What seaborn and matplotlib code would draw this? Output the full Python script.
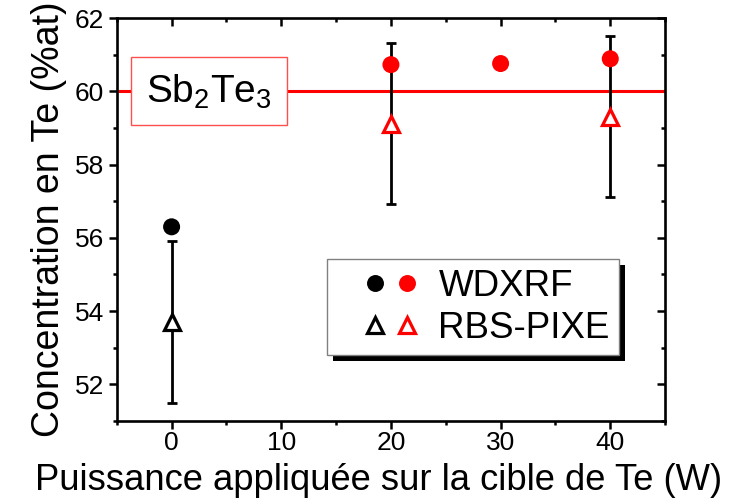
import numpy as np
import pandas as pd
import seaborn as sns
import matplotlib.pyplot as plt
from matplotlib.lines import Line2D
from matplotlib.legend_handler import HandlerTuple
from matplotlib.patches import Rectangle
from matplotlib.ticker import MultipleLocator

sns.set_style("ticks")
plt.rcParams['font.family'] = ['Liberation Sans', 'DejaVu Sans']
plt.rcParams['mathtext.fontset'] = 'custom'
plt.rcParams['mathtext.rm'] = 'Liberation Sans'
plt.rcParams['mathtext.it'] = 'Liberation Sans'
for k in ['text.color', 'axes.labelcolor', 'xtick.color', 'ytick.color', 'axes.edgecolor']:
    plt.rcParams[k] = 'black'

# data
power = [0, 20, 30, 40]
wdxrf = [56.3, 60.73, 60.76, 60.89]
wdxrf_color = ['black', 'red', 'red', 'red']
rbs_power = [0, 20, 40]
rbs = [53.7, 59.12, 59.31]
rbs_err = [2.2, 2.2, 2.2]
rbs_color = ['black', 'red', 'red']
stoich = 60.0

df_w = pd.DataFrame({'P': power, 'c': wdxrf, 'col': wdxrf_color})
df_r = pd.DataFrame({'P': rbs_power, 'c': rbs, 'col': rbs_color})

fig = plt.figure(figsize=(7.39, 5.04), dpi=100)
ax = fig.add_axes([0.158, 0.165, 0.742, 0.799])

ax.axhline(stoich, color='red', lw=2.2, zorder=1)
ax.errorbar(rbs_power, rbs, yerr=rbs_err, fmt='none', ecolor='black',
            elinewidth=2, capsize=3.3, capthick=2, zorder=2)
sns.scatterplot(data=df_w, x='P', y='c', hue='col', palette={'black': 'black', 'red': 'red'},
                marker='o', s=150, edgecolor='none', legend=False, ax=ax, zorder=3)
for col in ['black', 'red']:
    sub = df_r[df_r['col'] == col]
    ax.plot(sub['P'], sub['c'], ls='none', marker='^', ms=12, mfc='white',
            mec=col, mew=2.3, zorder=4)

ax.set_xlim(-5, 45)
ax.set_ylim(51, 62)
ax.xaxis.set_major_locator(MultipleLocator(10))
ax.xaxis.set_minor_locator(MultipleLocator(5))
ax.yaxis.set_major_locator(MultipleLocator(2))
ax.yaxis.set_minor_locator(MultipleLocator(1))
ax.tick_params(which='both', direction='out', width=1.8, labelsize=19)
ax.tick_params(which='major', length=5.5)
ax.tick_params(which='minor', length=2.8)
ax.tick_params(axis='x', pad=1.5)
ax.tick_params(axis='y', pad=3.5)
ax.tick_params(which='both', top=True, right=True, labeltop=False, labelright=False)
# top/right ticks point inward
for t in ax.xaxis.get_major_ticks() + ax.xaxis.get_minor_ticks():
    t.tick2line.set_marker(3)
for t in ax.yaxis.get_major_ticks() + ax.yaxis.get_minor_ticks():
    t.tick2line.set_marker(0)
for s in ax.spines.values():
    s.set_linewidth(1.9)

ax.set_xlabel('Puissance appliquée sur la cible de Te (W)', fontsize=26.2, labelpad=6)
ax.xaxis.label.set_x(0.477)
ax.set_ylabel('Concentration en Te (%at)', fontsize=27, labelpad=6)

ax.text(3.4, 60.0, r'Sb$_2$Te$_3$', fontsize=28, ha='center', va='center', zorder=5,
        bbox=dict(boxstyle='square,pad=0.38', fc='white', ec='#ff5050', lw=1))

blank = Line2D([], [], ls='none', marker='none')
h_circ = (blank,
          Line2D([], [], ls='none', marker='o', ms=12.2, mfc='black', mec='none'),
          Line2D([], [], ls='none', marker='o', ms=12.2, mfc='red', mec='none'))
h_tri = (blank,
         Line2D([], [], ls='none', marker='^', ms=11, mfc='white', mec='black', mew=2.3),
         Line2D([], [], ls='none', marker='^', ms=11, mfc='white', mec='red', mew=2.3))
leg = ax.legend([h_circ, h_tri], ['WDXRF', 'RBS-PIXE'],
                handler_map={tuple: HandlerTuple(ndivide=None, pad=0.475)},
                loc='upper left', bbox_to_anchor=(0.384, 0.401), borderaxespad=0,
                fontsize=26.5, frameon=True, fancybox=False, framealpha=1,
                edgecolor='#808080', handlelength=2.1, handletextpad=0.67,
                borderpad=0.25, labelspacing=0.2)
leg.get_frame().set_linewidth(1)
leg.set_zorder(10)

fig.canvas.draw()
bb = leg.get_window_extent()
shadow = Rectangle((bb.x0 + 5.5, bb.y0 - 5.5), bb.width, bb.height, transform=None,
                   fc='black', ec='none', zorder=9)
ax.add_artist(shadow)

fig.savefig('out.png', dpi=100)
